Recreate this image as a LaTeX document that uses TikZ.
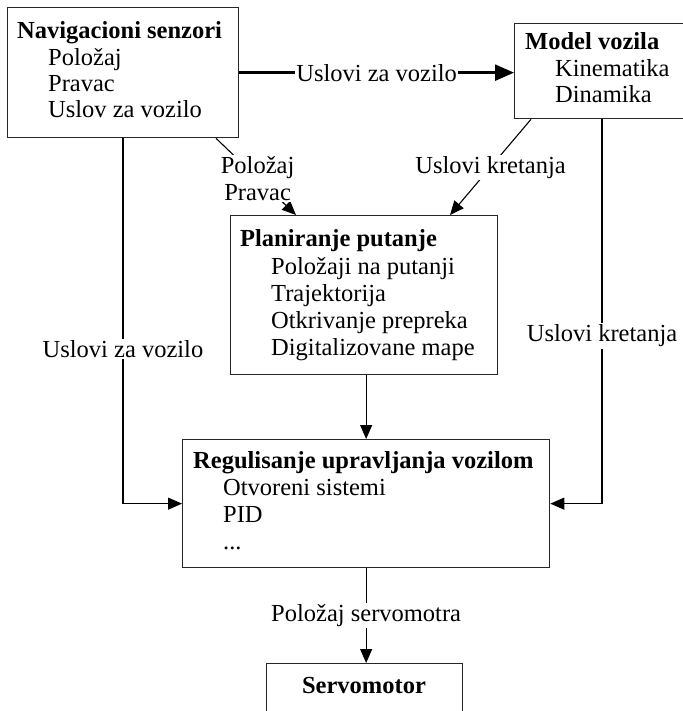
\documentclass[tikz,border=0pt]{standalone}
\usepackage{fontspec}
\setmainfont{Liberation Serif}
\usetikzlibrary{arrows.meta}
\begin{document}
\begin{tikzpicture}[x=1pt,y=-1pt,
  box/.style={draw=black!85, line width=1.3pt, rectangle, anchor=north west, inner sep=0pt},
  txt/.style={anchor=west, inner sep=0pt, text height=17pt, text depth=5pt, font=\fontsize{24.5}{27}\selectfont},
  ttl/.style={anchor=west, inner sep=0pt, text height=17pt, text depth=5pt, font=\fontsize{24.5}{27}\selectfont\bfseries},
  conn/.style={line width=1.1pt, -{Triangle[length=14pt,width=12pt]}},
  lbl/.style={fill=white, inner sep=1.5pt, align=center, font=\fontsize{24.5}{27}\selectfont}]
\useasboundingbox (0,0) rectangle (682,711);

% boxes
\node[box, minimum width=231pt, minimum height=130pt] (nav) at (7,7) {};
\node[box, minimum width=190pt, minimum height=95pt] (model) at (514,23) {};
\node[box, minimum width=267pt, minimum height=159pt] (plan) at (230,215) {};
\node[box, minimum width=367pt, minimum height=128pt] (reg) at (182,439) {};
\node[box, minimum width=196pt, minimum height=70pt] (servo) at (266,663) {};

% texts
\node[ttl] (navt) at (17,33) {Navigacioni senzori};
\node[txt] (nav1) at (48,60) {Položaj};
\node[txt] (nav2) at (48,86) {Pravac};
\node[txt] (nav3) at (48,112) {Uslov za vozilo};

\node[ttl] (modt) at (525,44) {Model vozila};
\node[txt] (mod1) at (555,71) {Kinematika};
\node[txt] (mod2) at (555,97) {Dinamika};

\node[ttl] (plat) at (240,240) {Planiranje putanje};
\node[txt] (pla1) at (271,268) {Položaji na putanji};
\node[txt] (pla2) at (271,295) {Trajektorija};
\node[txt] (pla3) at (271,322) {Otkrivanje prepreka};
\node[txt] (pla4) at (271,349) {Digitalizovane mape};

\node[ttl] (regt) at (193,462) {Regulisanje upravljanja vozilom};
\node[txt] (reg1) at (223,489) {Otvoreni sistemi};
\node[txt] (reg2) at (223,516) {PID};
\node[txt] (reg3) at (223,543) {...};

\node[ttl, anchor=center] (sert) at (364,687) {Servomotor};

% connectors
\draw[conn, line width=2.4pt, -{Triangle[length=19pt,width=16pt]}] (nav.east) -- (nav.east -| model.west)
  node[lbl, pos=0.5] {Uslovi za vozilo};
\draw[conn] ([xshift=116pt]nav.south west) |- (reg.west)
  node[lbl, pos=0.288] {Uslovi za vozilo};
\draw[conn] ([xshift=88pt]model.south west) |- (reg.east)
  node[lbl, pos=0.282] {Uslovi kretanja};
\draw[conn] ([xshift=209pt]nav.south west) -- ([xshift=66pt]plan.north west)
  node[lbl, pos=0.52] {Položaj\\Pravac};
\draw[conn] ([xshift=17pt]model.south west) -- ([xshift=220pt]plan.north west)
  node[lbl, pos=0.5] {Uslovi kretanja};
\draw[conn] (reg.north |- plan.south) -- (reg.north);
\draw[conn] (reg.south) -- (reg.south |- servo.north)
  node[lbl, pos=0.5] {Položaj servomotra};
\end{tikzpicture}
\end{document}
